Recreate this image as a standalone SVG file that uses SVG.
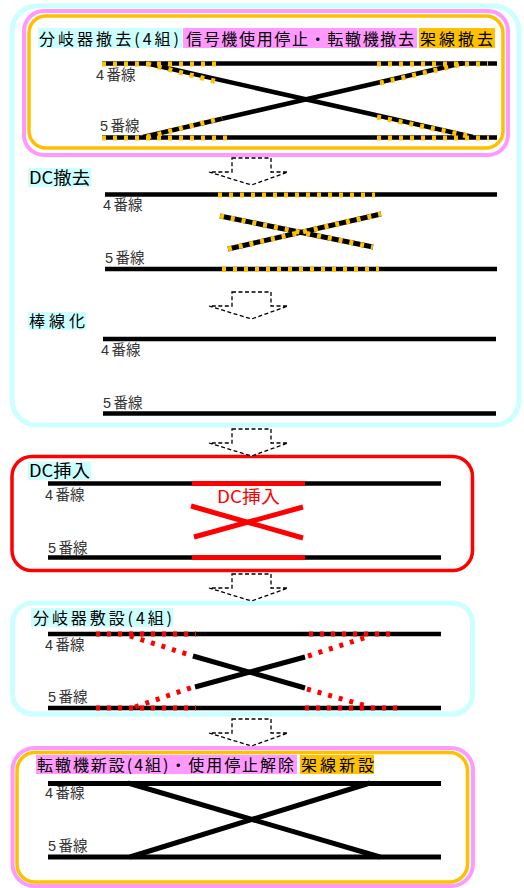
<svg xmlns="http://www.w3.org/2000/svg" width="524" height="888" viewBox="0 0 524 888">
<style>
  .t { font-family: "Noto Sans CJK JP", "Liberation Sans", sans-serif; font-size: 16px; fill: #000; }
  .d { font-family: "Noto Sans CJK JP", "Liberation Sans", sans-serif; font-size: 17px; fill: #000; }
  .lbl { font-family: "Liberation Sans", "Noto Sans CJK JP", sans-serif; font-size: 14.5px; fill: #333; }
  .trk { stroke: #000; stroke-width: 4.5; fill: none; }
  .trk5 { stroke: #000; stroke-width: 5; fill: none; }
  .od { stroke: #ffc000; stroke-width: 5; stroke-dasharray: 4 7; fill: none; }
  .rd { stroke: #ff0000; stroke-width: 5; stroke-dasharray: 4 7; fill: none; }
  .red { stroke: #ff0000; stroke-width: 5; fill: none; }
  .arrow { fill: #fff; stroke: #000; stroke-width: 1.3; stroke-dasharray: 4 2.5; }
  .cy { fill: #ccffff; }
  .pk { fill: #ff99ff; }
  .or { fill: #ffc000; }
</style>
<defs>
  <path id="arr" d="M232,0 L271,0 L271,14 L288,14 L251.5,27 L209,14 L232,14 Z"/>
</defs>
<rect width="524" height="888" fill="#fff"/>

<g id="phase-removal">
  <rect x="12" y="6" width="507" height="419" rx="25" fill="none" stroke="#ccffff" stroke-width="5"/>
  <g id="step-remove-switch">
    <rect x="24" y="11" width="484" height="144" rx="20" fill="none" stroke="#ff99ff" stroke-width="4"/>
    <rect x="29" y="16" width="474" height="132" rx="17" fill="none" stroke="#ffc000" stroke-width="3.5"/>
    <rect class="cy" x="38" y="28" width="144" height="20"/>
    <rect class="pk" x="183" y="28" width="234" height="20"/>
    <rect class="or" x="419" y="28" width="76" height="20"/>
    <text class="t" x="39" y="45" textLength="140" lengthAdjust="spacing">分岐器撤去(4組)</text>
    <text class="t" x="186" y="45" textLength="228" lengthAdjust="spacing">信号機使用停止・転轍機撤去</text>
    <text class="t" x="420" y="45" textLength="73" lengthAdjust="spacing">架線撤去</text>
    <line class="trk" x1="102" y1="63.5" x2="497" y2="63.5"/>
    <line class="trk" x1="102" y1="137.5" x2="497" y2="137.5"/>
    <line class="trk" x1="145" y1="63" x2="473" y2="137"/>
    <line class="trk" x1="143" y1="137" x2="463" y2="63"/>
    <line class="od" x1="102" y1="64" x2="221" y2="64"/>
    <line class="od" x1="377" y1="64" x2="488" y2="64"/>
    <line class="od" x1="102" y1="138" x2="227" y2="138"/>
    <line class="od" x1="377" y1="138" x2="489" y2="138"/>
    <line class="od" x1="147" y1="64" x2="218" y2="82"/>
    <line class="od" x1="147" y1="137" x2="222" y2="118"/>
    <line class="od" x1="380" y1="83" x2="463" y2="64"/>
    <line class="od" x1="377" y1="117" x2="473" y2="137"/>
    <text class="lbl" x="96" y="80">4<tspan dx="2.5">番線</tspan></text>
    <text class="lbl" x="100" y="131">5<tspan dx="2.5">番線</tspan></text>
  </g>
  <g id="step-dc-remove">
    <rect class="cy" x="28" y="168" width="63" height="19"/>
    <text class="d" x="29" y="184" textLength="61" lengthAdjust="spacingAndGlyphs">DC撤去</text>
    <line class="trk" x1="105" y1="194.5" x2="497" y2="194.5"/>
    <line class="trk" x1="105" y1="269" x2="497" y2="269"/>
    <line class="od" x1="218" y1="195" x2="375" y2="195"/>
    <line class="od" x1="222" y1="269.5" x2="379" y2="269.5"/>
    <line class="trk5" x1="220" y1="216" x2="373" y2="247"/>
    <line class="trk5" x1="228" y1="249" x2="381" y2="214"/>
    <line class="od" x1="220" y1="216" x2="373" y2="247"/>
    <line class="od" x1="228" y1="249" x2="381" y2="214"/>
    <text class="lbl" x="103" y="210">4<tspan dx="2.5">番線</tspan></text>
    <text class="lbl" x="105" y="263">5<tspan dx="2.5">番線</tspan></text>
  </g>
  <g id="step-straight">
    <rect class="cy" x="28" y="312" width="58" height="18"/>
    <text class="t" x="29" y="327" textLength="56" lengthAdjust="spacing">棒線化</text>
    <line class="trk" x1="103" y1="339" x2="496" y2="339"/>
    <line class="trk" x1="103" y1="413.5" x2="496" y2="413.5"/>
    <text class="lbl" x="101" y="355">4<tspan dx="2.5">番線</tspan></text>
    <text class="lbl" x="103" y="408">5<tspan dx="2.5">番線</tspan></text>
  </g>
</g>

<g id="step-dc-insert">
  <rect x="12" y="456.5" width="460.5" height="114" rx="20" fill="none" stroke="#ff0000" stroke-width="3.5"/>
  <rect class="cy" x="28" y="462" width="63" height="18"/>
  <text class="d" x="29" y="477" textLength="61" lengthAdjust="spacingAndGlyphs">DC挿入</text>
  <line class="trk" x1="48" y1="483.5" x2="441" y2="483.5"/>
  <line class="trk" x1="48" y1="557.5" x2="441" y2="557.5"/>
  <line class="red" x1="192" y1="483.5" x2="305" y2="483.5"/>
  <line class="red" x1="192" y1="557.5" x2="305" y2="557.5"/>
  <line class="red" x1="191" y1="506" x2="303" y2="538"/>
  <line class="red" x1="194" y1="537" x2="303" y2="507"/>
  <text class="d" x="217" y="503" style="fill:#ff0000" textLength="63" lengthAdjust="spacingAndGlyphs">DC挿入</text>
  <text class="lbl" x="45" y="500">4<tspan dx="2.5">番線</tspan></text>
  <text class="lbl" x="48" y="553">5<tspan dx="2.5">番線</tspan></text>
</g>

<g id="step-switch-install">
  <rect x="12.5" y="603" width="460" height="111" rx="20" fill="none" stroke="#ccffff" stroke-width="5"/>
  <rect class="cy" x="31" y="608" width="142" height="19"/>
  <text class="t" x="33" y="624" textLength="139" lengthAdjust="spacing">分岐器敷設(4組)</text>
  <line class="trk" x1="48" y1="634" x2="441" y2="634"/>
  <line class="trk" x1="48" y1="708" x2="441" y2="708"/>
  <line class="rd" x1="96" y1="634" x2="196" y2="634"/>
  <line class="rd" x1="309" y1="634" x2="397" y2="634"/>
  <line class="rd" x1="96" y1="708" x2="196" y2="708"/>
  <line class="rd" x1="305" y1="708" x2="400" y2="708"/>
  <line class="rd" x1="130" y1="636" x2="193" y2="656"/>
  <line class="trk5" x1="193" y1="656" x2="305" y2="688"/>
  <line class="rd" x1="307" y1="689" x2="370" y2="707"/>
  <line class="rd" x1="135" y1="707" x2="193" y2="687"/>
  <line class="trk5" x1="195" y1="687" x2="305" y2="657"/>
  <line class="rd" x1="308" y1="656" x2="370" y2="636"/>
  <text class="lbl" x="45" y="650">4<tspan dx="2.5">番線</tspan></text>
  <text class="lbl" x="48" y="702">5<tspan dx="2.5">番線</tspan></text>
</g>

<g id="step-final">
  <rect x="12.5" y="748" width="460.5" height="138" rx="22" fill="none" stroke="#ff99ff" stroke-width="4"/>
  <rect x="17" y="752.5" width="450.5" height="129.5" rx="18" fill="none" stroke="#ffc000" stroke-width="3.5"/>
  <rect class="pk" x="36" y="755" width="261" height="19"/>
  <rect class="or" x="300" y="755" width="74" height="19"/>
  <text class="t" x="37" y="771" textLength="257" lengthAdjust="spacing">転轍機新設(4組)・使用停止解除</text>
  <text class="t" x="301" y="771" textLength="73" lengthAdjust="spacing">架線新設</text>
  <line class="trk5" x1="48" y1="783.5" x2="441" y2="783.5"/>
  <line class="trk5" x1="48" y1="857" x2="441" y2="857"/>
  <line class="trk5" x1="128" y1="783" x2="380" y2="857"/>
  <line class="trk5" x1="130" y1="857" x2="370" y2="783"/>
  <text class="lbl" x="45" y="798">4<tspan dx="2.5">番線</tspan></text>
  <text class="lbl" x="48" y="851">5<tspan dx="2.5">番線</tspan></text>
</g>

<g id="connectors">
  <use href="#arr" class="arrow" transform="translate(0,158)"/>
  <use href="#arr" class="arrow" transform="translate(0,292)"/>
  <use href="#arr" class="arrow" transform="translate(0,429)"/>
  <use href="#arr" class="arrow" transform="translate(0,574)"/>
  <use href="#arr" class="arrow" transform="translate(0,719)"/>
</g>
</svg>
